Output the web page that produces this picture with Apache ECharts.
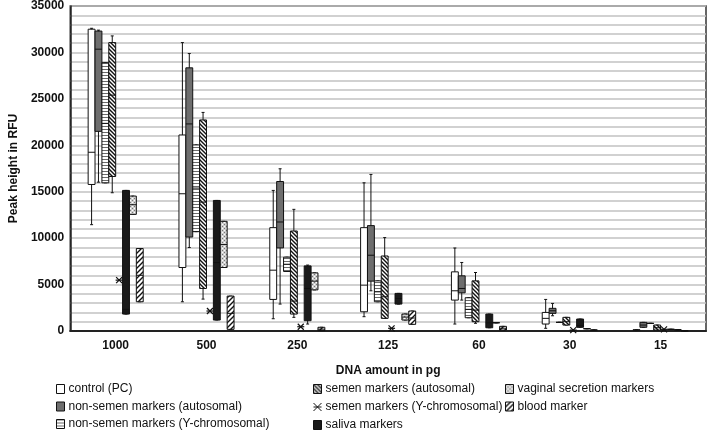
<!DOCTYPE html>
<html><head><meta charset="utf-8">
<script src="https://cdn.jsdelivr.net/npm/echarts@6/dist/echarts.min.js"></script>
<style>html,body{margin:0;padding:0;background:#fff}#c{width:708px;height:434px}</style>
</head><body><div id="c"></div>
<script>
// ---- data ----
const categories = ['1000', '500', '250', '125', '60', '30', '15'];
const seriesNames = ['control (PC)', 'non-semen markers (autosomal)', 'non-semen markers (Y-chromosomal)',
  'semen markers (autosomal)', 'semen markers (Y-chromosomal)', 'saliva markers',
  'vaginal secretion markers', 'blood marker'];
const yTickLabels = [0, 5000, 10000, 15000, 20000, 25000, 30000, 35000];
// each entry: [min, q1, median, q3, max] per category
const controlPC = [
  [11450, 15780, 19250, 32500, 32600], [3150, 6840, 14780, 21110, 31060], [1320, 3400, 6550, 11130, 15140],
  [1540, 2070, 4940, 11130, 15960], [750, 3330, 4330, 6370, 8940], [290, 750, 1360, 2000, 3400], [50, 80, 100, 130, 150]];
const nonSemenAuto = [
  [16030, 21500, 30350, 32300, 32400], [8990, 10120, 22300, 28340, 29880], [2900, 8950, 11740, 16100, 17470],
  [4330, 5370, 8160, 11350, 16860], [3330, 4110, 4580, 5940, 7380], [1640, 1900, 2180, 2440, 2970], [400, 400, 640, 930, 930]];
const nonSemenY = [
  [15960, 15960, 22360, 28900, 28900], [10700, 10700, 15390, 20040, 20040], [6410, 6410, 7190, 7950, 7950],
  [3150, 3150, 4220, 5400, 5400], [1430, 1430, 2330, 3580, 3580], [930, 930, 930, 930, 930], [820, 820, 820, 820, 820]];
const semenAuto = [
  [14890, 16640, 25400, 31060, 31780], [3435, 4580, 13880, 22730, 23540], [1470, 1825, 3220, 10770, 13100],
  [1360, 1360, 3690, 8080, 10060], [830, 1000, 2250, 5400, 6300], [640, 640, 1000, 1470, 1470], [100, 100, 350, 640, 640]];
const semenY = [5475, 2150, 460, 290, null, 100, 180];
const saliva = [
  [1825, 1825, 2330, 15140, 15140], [1180, 1180, 7375, 14060, 14060], [750, 1110, 4580, 7010, 7100],
  [2900, 2900, 3500, 4050, 4050], [350, 350, 890, 1825, 1825], [400, 400, 600, 1290, 1290], [180, 180, 180, 180, 180]];
const vaginal = [
  [12560, 12560, 13600, 14530, 14530], [6840, 6840, 9310, 11810, 11810], [4430, 4430, 5370, 6260, 6260],
  [1180, 1180, 1500, 1825, 1825], [890, 890, 890, 890, 890], [250, 250, 250, 250, 250], [130, 130, 130, 130, 130]];
const blood = [
  [3150, 3150, 6000, 8880, 8880], [180, 180, 1900, 3760, 3760], [50, 50, 200, 400, 400],
  [720, 720, 1400, 2150, 2150], [100, 100, 300, 500, 500], [100, 100, 100, 100, 100], [20, 20, 20, 20, 20]];

// ---- styles ----
function pattern(w, h, draw) {
  const cv = document.createElement('canvas'); cv.width = w; cv.height = h;
  const ctx = cv.getContext('2d'); draw(ctx, w, h);
  return { image: cv, repeat: 'repeat' };
}
const fillNsY = pattern(4, 3, (c, w, h) => { c.fillStyle = '#fff'; c.fillRect(0, 0, w, h); c.fillStyle = '#6a6a6a'; c.fillRect(0, 0, w, 1); });
const fillSA = pattern(4, 4, (c, w, h) => {
  c.fillStyle = '#fff'; c.fillRect(0, 0, w, h); c.strokeStyle = '#111'; c.lineWidth = 1.4; c.beginPath();
  c.moveTo(-1, -1); c.lineTo(w + 1, h + 1); c.moveTo(-1, h - 1); c.lineTo(1, h + 1); c.moveTo(w - 1, -1); c.lineTo(w + 1, 1); c.stroke();
});
const fillBlood = pattern(5, 5, (c, w, h) => {
  c.fillStyle = '#fff'; c.fillRect(0, 0, w, h); c.strokeStyle = '#111'; c.lineWidth = 1.4; c.beginPath();
  c.moveTo(-1, h + 1); c.lineTo(w + 1, -1); c.moveTo(-1, 1); c.lineTo(1, -1); c.moveTo(w - 1, h + 1); c.lineTo(w + 1, h - 1); c.stroke();
});
const fillVag = pattern(4, 4, (c, w, h) => {
  c.fillStyle = '#cfcfcf'; c.fillRect(0, 0, w, h); c.fillStyle = '#777';
  c.fillRect(0, 0, 1, 1); c.fillRect(2, 2, 1, 1); c.fillStyle = '#fff'; c.fillRect(2, 0, 1, 1); c.fillRect(0, 2, 1, 1);
});
const fills = ['#ffffff', '#6e6e6e', fillNsY, fillSA, null, '#1a1a1a', fillVag, fillBlood];
const boxData = [controlPC, nonSemenAuto, nonSemenY, semenAuto, null, saliva, vaginal, blood];

const SLOT = 0.0758;
function boxRender(idx) {
  return function (params, api) {
    const cat = api.value(0);
    const band = api.size([1, 0])[0];
    const slot = band * SLOT;
    const cx = api.coord([cat, 0])[0] + (idx - 3.5) * slot;
    const y = k => api.coord([cat, api.value(k)])[1];
    const yMin = y(1), yQ1 = y(2), yMed = y(3), yQ3 = y(4), yMax = y(5);
    const h = slot / 2;
    const st = { stroke: '#111', lineWidth: 1 };
    return {
      type: 'group', children: [
        { type: 'line', shape: { x1: cx, y1: yMax, x2: cx, y2: yMin }, style: st },
        { type: 'line', shape: { x1: cx - 1.5, y1: yMax, x2: cx + 1.5, y2: yMax }, style: st },
        { type: 'line', shape: { x1: cx - 1.5, y1: yMin, x2: cx + 1.5, y2: yMin }, style: st },
        { type: 'rect', shape: { x: cx - h, y: yQ3, width: slot, height: Math.max(yQ1 - yQ3, 0) }, style: { fill: fills[idx], stroke: '#111', lineWidth: 1 } },
        { type: 'line', shape: { x1: cx - h, y1: yMed, x2: cx + h, y2: yMed }, style: st }
      ]
    };
  };
}
function starRender(params, api) {
  const cat = api.value(0);
  const band = api.size([1, 0])[0];
  const slot = band * SLOT;
  const p = api.coord([cat, api.value(1)]);
  const cx = p[0] + 0.5 * slot, cy = p[1], r = 3;
  const st = { stroke: '#111', lineWidth: 1.2 };
  return {
    type: 'group', children: [
      { type: 'line', shape: { x1: cx - r, y1: cy - r, x2: cx + r, y2: cy + r }, style: st },
      { type: 'line', shape: { x1: cx - r, y1: cy + r, x2: cx + r, y2: cy - r }, style: st },
      { type: 'line', shape: { x1: cx - r - 0.5, y1: cy, x2: cx + r + 0.5, y2: cy }, style: st }
    ]
  };
}

const series = seriesNames.map((name, i) => {
  if (i === 4) {
    return {
      name, type: 'custom', renderItem: starRender, encode: { x: 0, y: 1 },
      itemStyle: { color: '#111' },
      data: semenY.map((v, c) => v == null ? null : [c, v]).filter(d => d)
    };
  }
  return {
    name, type: 'custom', renderItem: boxRender(i), encode: { x: 0, y: [1, 2, 3, 4, 5] },
    itemStyle: { color: fills[i] },
    data: boxData[i].map((b, c) => [c].concat(b))
  };
});

const FONT = 'Liberation Sans, Arial, sans-serif';
function legendItem(i) {
  if (i === 4) return { name: seriesNames[i], icon: 'path://M0,0L10,10M10,0L0,10M0,5L10,5', itemStyle: { color: 'none', borderColor: '#111', borderWidth: 1 } };
  return { name: seriesNames[i], icon: 'rect', itemStyle: { color: fills[i], borderColor: '#111', borderWidth: 1 } };
}
function legend(left, idxs) {
  return {
    orient: 'vertical', left, top: 383, padding: 0, itemGap: 5.5, itemWidth: 8, itemHeight: 9,
    selectedMode: false,
    textStyle: { fontFamily: FONT, fontSize: 12, color: '#111', padding: [0, 0, 0, -1] },
    data: idxs.map(legendItem)
  };
}

const chart = echarts.init(document.getElementById('c'), null, { renderer: 'canvas' });
chart.setOption({
  animation: false,
  backgroundColor: '#fff',
  grid: { left: 59, right: 2, top: 5, bottom: 103, show: true, borderColor: '#333', borderWidth: 1.5 },
  xAxis: {
    type: 'category', data: categories,
    axisLine: { lineStyle: { color: '#222', width: 2 } }, axisTick: { show: false },
    axisLabel: { fontFamily: FONT, fontSize: 12, fontWeight: 'bold', color: '#111', margin: 9 },
    name: 'DNA amount in pg', nameLocation: 'middle', nameGap: 34,
    nameTextStyle: { fontFamily: FONT, fontSize: 12, fontWeight: 'bold', color: '#111' }
  },
  yAxis: {
    type: 'value', min: 0, max: 35000, interval: 1000,
    axisLine: { show: true, lineStyle: { color: '#222', width: 1.5 } }, axisTick: { show: false },
    axisLabel: { fontFamily: FONT, fontSize: 12, fontWeight: 'bold', color: '#111', margin: 6,
      formatter: v => yTickLabels.includes(v) ? String(v) : '' },
    splitLine: { lineStyle: { color: '#c2c2c2', width: 1.5 } },
    name: 'Peak height in RFU', nameLocation: 'middle', nameGap: 44, nameRotate: 90,
    nameTextStyle: { fontFamily: FONT, fontSize: 12, fontWeight: 'bold', color: '#111' }
  },
  legend: [legend(56, [0, 1, 2]), legend(311, [3, 4, 5]), legend(505, [6, 7])],
  series
});
</script></body></html>
